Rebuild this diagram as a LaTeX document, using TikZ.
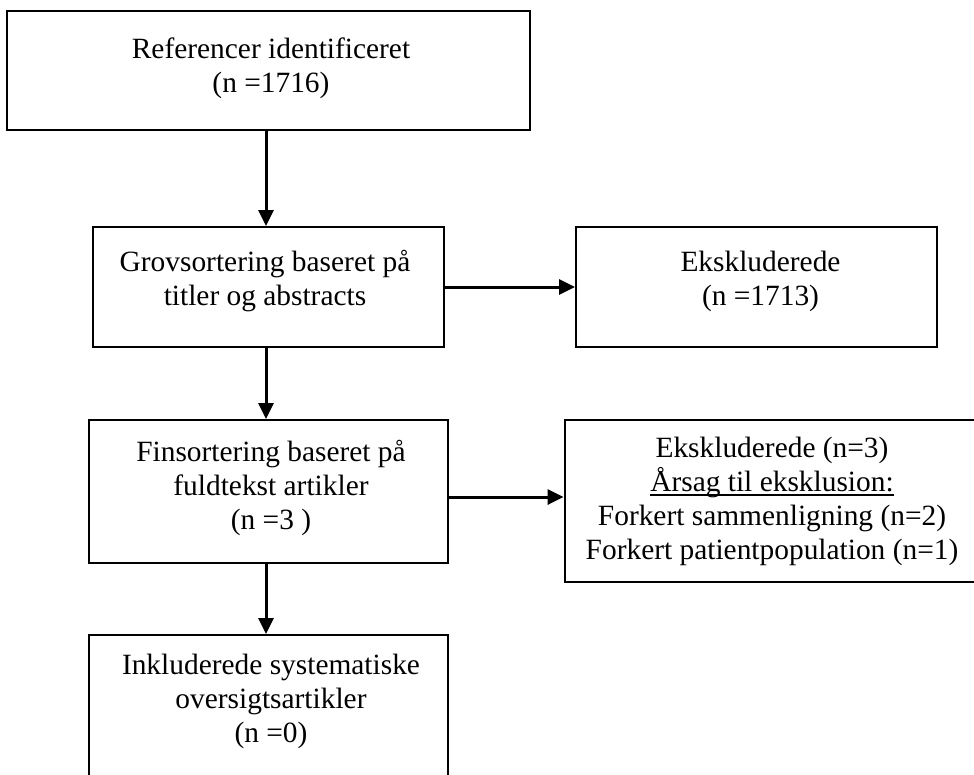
\documentclass[tikz,border=0pt]{standalone}
\usepackage{fontspec}
\setmainfont{Liberation Serif}
\usetikzlibrary{arrows.meta}
\newcommand\myul[1]{\setbox0\hbox{#1}\rlap{\rule[-4.5pt]{\wd0}{1.6pt}}\box0}
\newcommand\firstline{\rule{0pt}{26pt}}
\tikzset{
  box/.style={draw=black, line width=2pt, rectangle, inner sep=0pt},
  txt/.style={font=\fontsize{29.4pt}{34pt}\selectfont, align=center, inner sep=0pt, anchor=north},
  arr/.style={line width=3pt, -{Triangle[length=16pt,width=15pt]}}
}
\begin{document}
\begin{tikzpicture}[x=1pt,y=-1pt]
\fill[white] (0,0) rectangle (974,774);
\useasboundingbox (0,0) rectangle (974,774);
% boxes
\node[box, minimum width=523pt, minimum height=119pt] (b1) at (268.5,70.5) {};
\node[box, minimum width=351pt, minimum height=120pt] (b2) at (268.5,287) {};
\node[box, minimum width=361pt, minimum height=120pt] (b3) at (756.5,287) {};
\node[box, minimum width=359pt, minimum height=143pt] (b4) at (268.5,491.5) {};
\node[box, line width=2.8pt, minimum width=435pt, minimum height=162pt] (b5) at (782.5,501) {};
\node[box, minimum width=359pt, minimum height=175pt] (b6) at (268.5,722.5) {};
% texts
\node[txt] (t1) at (271,32) {\firstline Referencer identificeret\\(n =1716)};
\node[txt] (t2) at (265,245) {\firstline Grovsortering baseret på\\titler og abstracts};
\node[txt] (t3) at (760.5,245) {\firstline Ekskluderede\\(n =1713)};
\node[txt] (t4) at (271,435) {\firstline Finsortering baseret på\\fuldtekst artikler\\(n =3 )};
\node[txt] (t5) at (772,431) {\firstline Ekskluderede (n=3)\\\myul{Årsag til eksklusion:}\\Forkert sammenligning (n=2)\\Forkert patientpopulation (n=1)};
\node[txt] (t6) at (271,648) {\firstline Inkluderede systematiske\\oversigtsartikler\\(n =0)};
% arrows
\draw[arr] ([xshift=-2.5pt]b1.south) -- ([xshift=-2.5pt]b2.north);
\draw[arr] ([xshift=-2.5pt]b2.south) -- ([xshift=-2.5pt]b4.north);
\draw[arr] ([xshift=-2.5pt]b4.south) -- ([xshift=-2.5pt]b6.north);
\draw[arr] (b2.east) -- (b3.west);
\draw[arr] ([yshift=-5.5pt]b4.east) -- ([yshift=-5.5pt]b4.east -| b5.west);
\end{tikzpicture}
\end{document}
